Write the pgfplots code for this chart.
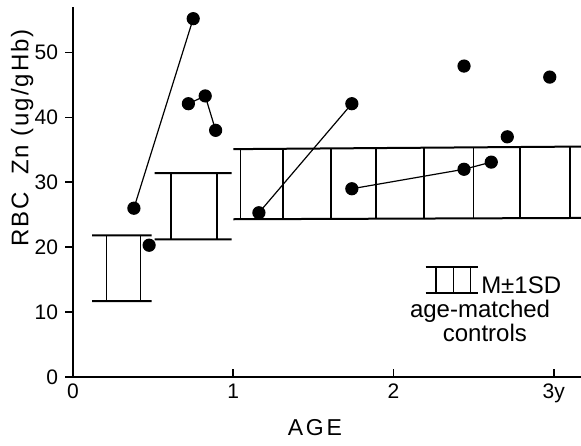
\documentclass[border=0pt]{standalone}
\usepackage{fontspec}
\setmainfont{Liberation Sans}
\usepackage{pgfplots}
\pgfplotsset{compat=1.18}

\begin{document}
\begin{tikzpicture}
\begin{axis}[
    scale only axis,
    width=254pt, height=185pt,
    xmin=0, xmax=3.17,
    ymin=0, ymax=57,
    axis x line=bottom, axis y line=left,
    axis line style={-, line width=1.4pt},
    xtick={0,1,2,3}, xticklabels={0,1,2,3y},
    ytick={0,10,20,30,40,50},
    xtick align=inside, ytick align=outside,
    major tick length=4pt,
    tick style={black, line width=0.8pt},
    /pgf/number format/assume math mode=true,
    tick label style={font=\fontsize{10.5}{12}\selectfont},
    xlabel={\addfontfeature{LetterSpace=12}AGE},
    ylabel={\addfontfeature{LetterSpace=8}RBC\ \ Zn (ug/gHb)},
    xlabel style={font=\fontsize{11.5}{13}\selectfont, at={(axis description cs:0.476,-0.138)}, anchor=center},
    ylabel style={font=\fontsize{12}{14}\selectfont, at={(axis description cs:-0.1,0.646)}, anchor=center, rotate=0},
    unbounded coords=jump,
    clip=false,
]
% controls M +/- 1SD
\addplot[black, line width=1pt] coordinates {
    (0.12,21.8) (0.49,21.8) (nan,nan) (0.12,11.7) (0.49,11.7) (nan,nan)
    (0.51,31.4) (0.99,31.4) (nan,nan) (0.51,21.2) (0.99,21.2) (nan,nan)
    (1.0,35.1) (3.17,35.5) (nan,nan) (1.0,24.3) (3.17,24.5)
};
\addplot[black, line width=0.8pt] coordinates {
    (0.21,11.7) (0.21,21.8) (nan,nan) (0.42,11.7) (0.42,21.8) (nan,nan)
    (0.61,21.2) (0.61,31.4) (nan,nan) (0.90,21.2) (0.90,31.4) (nan,nan)
    (1.045,24.3) (1.045,35.1) (nan,nan) (1.31,24.3) (1.31,35.15) (nan,nan)
    (1.61,24.35) (1.61,35.2) (nan,nan) (1.89,24.35) (1.89,35.25) (nan,nan)
    (2.19,24.4) (2.19,35.3) (nan,nan) (2.50,24.4) (2.50,35.35) (nan,nan)
    (2.79,24.45) (2.79,35.4) (nan,nan) (3.10,24.5) (3.10,35.5)
};
% patients
\pgfplotsset{pt/.style={black, line width=0.6pt, mark=*, mark size=3pt, mark options={fill=black}}}
\addplot[pt] coordinates {(0.38,26.0) (0.75,55.2)};
\addplot[pt, only marks] coordinates {(0.475,20.3)};
\addplot[pt] coordinates {(0.72,42.1) (0.825,43.3) (0.89,38.0)};
\addplot[pt] coordinates {(1.16,25.3) (1.74,42.1)};
\addplot[pt] coordinates {(1.74,29.0) (2.44,32.0) (2.61,33.1)};
\addplot[pt, only marks] coordinates {(2.44,47.9) (2.975,46.2) (2.71,37.0)};
% legend symbol
\addplot[black, line width=1pt] coordinates {
    (2.2,16.9) (2.525,16.9) (nan,nan) (2.2,12.9) (2.525,12.9)
};
\addplot[black, line width=0.8pt] coordinates {
    (2.265,12.9) (2.265,16.9) (nan,nan) (2.375,12.9) (2.375,16.9) (nan,nan)
    (2.48,12.9) (2.48,16.9)
};
\node[anchor=base west, inner sep=0pt, font=\fontsize{12}{14}\selectfont] at (axis cs:2.545,12.9) {M±1SD};
\node[anchor=base, inner sep=0pt, font=\fontsize{12}{14}\selectfont] at (axis cs:2.54,9.2) {age-matched};
\node[anchor=base, inner sep=0pt, font=\fontsize{12}{14}\selectfont] at (axis cs:2.57,5.5) {controls};
\coordinate (BL) at (rel axis cs:-0.1437,-0.1865);
\coordinate (TR) at (rel axis cs:1,1.0189);
\end{axis}
\pgfresetboundingbox
\path[use as bounding box] (BL) rectangle (TR);
\end{tikzpicture}
\end{document}
